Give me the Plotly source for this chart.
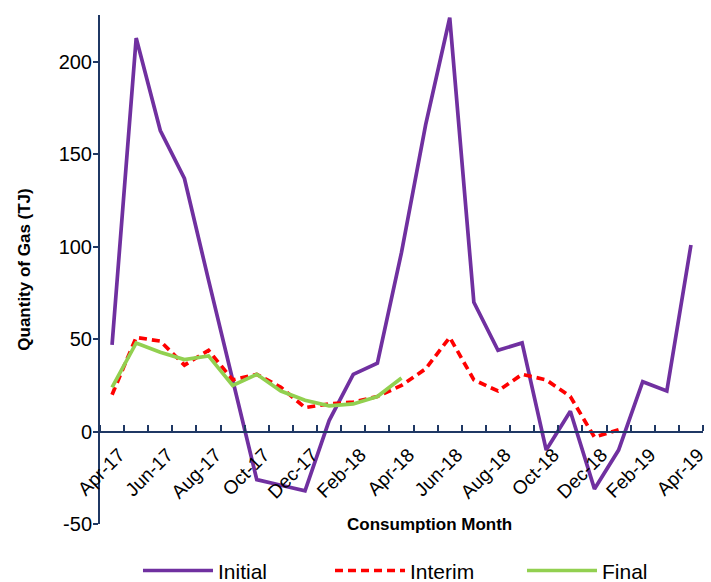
import plotly.graph_objects as go

# -----------------------------------------------------------------------------
# Data
# -----------------------------------------------------------------------------

months = ["Apr-17", "May-17", "Jun-17", "Jul-17", "Aug-17", "Sep-17", "Oct-17",
          "Nov-17", "Dec-17", "Jan-18", "Feb-18", "Mar-18", "Apr-18", "May-18",
          "Jun-18", "Jul-18", "Aug-18", "Sep-18", "Oct-18", "Nov-18", "Dec-18",
          "Jan-19", "Feb-19", "Mar-19", "Apr-19"]

initial = [47, 213, 163, 137, 82, 28, -26, -29, -32, 6, 31, 37, 97,
           166, 224, 70, 44, 48, -10, 11, -31, -10, 27, 22, 101]

interim = [20, 51, 49, 36, 44, 28, 31, 24, 13, 15, 16, 19, 25,
           34, 51, 28, 22, 31, 28, 19, -3, 1, None, None, None]

final = [24, 48, 43, 39, 41, 25, 31, 22, 17, 14, 15, 19, 29,
         None, None, None, None, None, None, None, None, None, None, None, None]

y_ticks = [-50, 0, 50, 100, 150, 200]
y_tick_labels = ["-50", "0", "50", "100", "150", "200"]

# -----------------------------------------------------------------------------
# Figure
# -----------------------------------------------------------------------------

AXIS = "#1F3864"
FONT = "Liberation Sans"
x = list(range(len(months)))
y_min, y_max = -50, 225.5

fig = go.Figure()
fig.add_trace(go.Scatter(x=x, y=initial, name="Initial", mode="lines",
                         line=dict(color="#7030A0", width=3.7)))
fig.add_trace(go.Scatter(x=x, y=interim, name="Interim", mode="lines",
                         line=dict(color="#FF0000", width=3.7, dash="8px,5px")))
fig.add_trace(go.Scatter(x=x, y=final, name="Final", mode="lines",
                         line=dict(color="#92D050", width=3.7)))

# rotated labels sit a little right of the category centre, as in Excel
fig.update_xaxes(
    range=[-0.5, len(months) - 0.5],
    anchor="free", position=(0 - y_min) / (y_max - y_min),
    showline=True, linecolor=AXIS, linewidth=1.5,
    showgrid=False, zeroline=False,
    tickmode="array", tickvals=[i + 0.3 for i in x[::2]], ticktext=months[::2],
    tickangle=-45, ticks="", ticklabelstandoff=4,
    tickfont=dict(family=FONT, size=19, color="black"),
    minor=dict(tickmode="array", tickvals=[i - 0.5 for i in range(len(months) + 1)],
               ticks="inside", ticklen=6, tickwidth=1.5, tickcolor=AXIS),
    automargin=False,
)
fig.update_yaxes(
    range=[y_min, y_max],
    tickmode="array", tickvals=y_ticks, ticktext=y_tick_labels,
    showline=True, linecolor=AXIS, linewidth=2,
    showgrid=False, zeroline=False,
    ticks="outside", ticklen=5, tickwidth=1.5, tickcolor=AXIS,
    ticklabelstandoff=-3,
    tickfont=dict(family=FONT, size=20, color="black"),
    title=dict(text="<b>Quantity of Gas (TJ)</b>", standoff=24,
               font=dict(family=FONT, size=17, color="black")),
    automargin=False,
)

fig.add_annotation(text="<b>Consumption Month</b>", xref="paper", yref="paper",
                   x=0.547, y=0.0, yanchor="middle", showarrow=False,
                   font=dict(family=FONT, size=17, color="black"))

fig.update_layout(
    width=711, height=582,
    margin=dict(l=100, r=8, t=15, b=58, autoexpand=False),
    plot_bgcolor="white", paper_bgcolor="white",
    font=dict(family=FONT, color="black"),
    legend=dict(orientation="h", x=0.063, xanchor="left", y=-0.092, yanchor="middle",
                entrywidth=107, entrywidthmode="pixels", itemwidth=70,
                font=dict(family=FONT, size=21, color="black")),
)

fig.write_html("out.html", config={"displayModeBar": False},
               post_script="document.body.style.margin='0';")
